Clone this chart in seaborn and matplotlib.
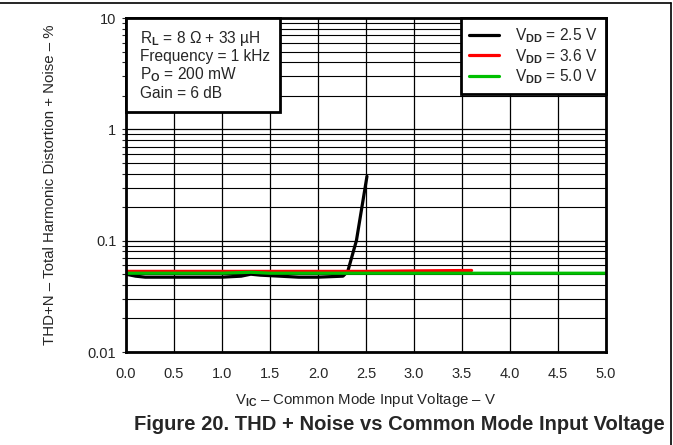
import matplotlib
matplotlib.use("Agg")
import matplotlib.pyplot as plt
import seaborn as sns
import numpy as np
import pandas as pd
from matplotlib.lines import Line2D
from matplotlib.patches import Rectangle
from matplotlib.ticker import LogLocator, NullFormatter, FixedLocator

# ---- data ----
x_25 = [0.0, 0.1, 0.2, 0.5, 0.8, 1.0, 1.2, 1.3, 1.4, 1.6, 1.8, 2.0, 2.26, 2.31, 2.40, 2.51]
y_25 = [0.050, 0.048, 0.047, 0.047, 0.047, 0.047, 0.048, 0.050, 0.049, 0.048, 0.047, 0.047, 0.048, 0.053, 0.100, 0.378]
x_36 = [0.0, 0.5, 1.0, 1.5, 2.0, 2.5, 3.0, 3.6]
y_36 = [0.053, 0.053, 0.053, 0.053, 0.053, 0.053, 0.0535, 0.054]
x_50 = [0.0, 0.5, 1.0, 1.3, 1.5, 2.0, 2.5, 3.0, 3.5, 4.0, 4.5, 5.0]
y_50 = [0.051, 0.051, 0.051, 0.052, 0.051, 0.051, 0.051, 0.051, 0.051, 0.051, 0.051, 0.051]

series_labels = ["2.5 V", "3.6 V", "5.0 V"]
series_colors = ["#000000", "#ff0000", "#00c000"]
x_ticks = [0.0, 0.5, 1.0, 1.5, 2.0, 2.5, 3.0, 3.5, 4.0, 4.5, 5.0]
y_ticks = [0.01, 0.1, 1, 10]
y_tick_labels = ["0.01", "0.1", "1", "10"]
info_lines = [r"R$_{\mathbf{L}}$ = 8 Ω + 33 µH",
              "Frequency = 1 kHz",
              r"P$_{\mathbf{O}}$ = 200 mW",
              "Gain = 6 dB"]

sns.set_style("white")
plt.rcParams['font.family'] = ['Liberation Sans', 'DejaVu Sans']
plt.rcParams['mathtext.fontset'] = 'custom'
plt.rcParams['mathtext.rm'] = 'Liberation Sans'
plt.rcParams['mathtext.it'] = 'Liberation Sans:italic'
plt.rcParams['mathtext.bf'] = 'Liberation Sans:bold'

W, H = 673, 445
fig = plt.figure(figsize=(W/100, H/100), dpi=100)
AX_L, AX_R, AX_T, AX_B = 126, 606, 18, 352
ax = fig.add_axes([AX_L/W, 1 - AX_B/H, (AX_R-AX_L)/W, (AX_B-AX_T)/H])

def px2ax(x, y):
    return ((x - AX_L) / (AX_R - AX_L), (AX_B - y) / (AX_B - AX_T))

frames = []
for xs, ys, lab in zip([x_25, x_36, x_50], [y_25, y_36, y_50], series_labels):
    frames.append(pd.DataFrame({"x": xs, "y": ys, "s": lab}))
df = pd.concat(frames, ignore_index=True)

sns.lineplot(data=df, x="x", y="y", hue="s", palette=dict(zip(series_labels, series_colors)),
             linewidth=2.3, ax=ax, legend=False, sort=False, estimator=None, zorder=5)

ax.set_yscale("log")
ax.set_xlim(0, 5)
ax.set_ylim(0.01, 10)
ax.xaxis.set_major_locator(FixedLocator(x_ticks))
ax.set_xticklabels([f"{v:.1f}" for v in x_ticks], fontsize=10.5)
ax.set_yticks(y_ticks)
ax.set_yticklabels(y_tick_labels, fontsize=10.5)
ax.yaxis.set_minor_locator(LogLocator(base=10, subs=np.arange(2, 10)))
ax.yaxis.set_minor_formatter(NullFormatter())
ax.tick_params(axis='y', which='both', direction='out', length=3, width=0.8, left=True, pad=4)
ax.tick_params(axis='x', which='both', length=0, pad=11)
ax.grid(True, which='major', axis='both', color='black', linewidth=0.9)
ax.grid(True, which='minor', axis='y', color='black', linewidth=0.8)
ax.set_axisbelow(True)
for sp in ax.spines.values():
    sp.set_visible(True)
    sp.set_color('black')
    sp.set_linewidth(2)
    sp.set_zorder(10)

ax.set_xlabel(r"V$_{\mathbf{IC}}$ – Common Mode Input Voltage – V", fontsize=10.8, labelpad=7)
ax.set_ylabel("THD+N – Total Harmonic Distortion + Noise – %", fontsize=10.8, labelpad=22)

# info box flush with top-left of axes
x0, y0 = px2ax(AX_L, 112)
x1, y1 = px2ax(280, AX_T)
ax.add_patch(Rectangle((x0, y0), x1 - x0, y1 - y0, transform=ax.transAxes,
                       facecolor='white', edgecolor='black', linewidth=2, zorder=20, clip_on=False))
for i, line in enumerate(info_lines):
    tx, ty = px2ax(140, 38 + i * 18.5)
    ax.text(tx, ty, line, transform=ax.transAxes, fontsize=11.2, va='center', ha='left', zorder=21)

handles = [Line2D([0], [0], color=c, lw=2.3) for c in series_colors]
labels = [r"V$_{\mathbf{DD}}$ = " + s for s in series_labels]
leg = ax.legend(handles, labels, loc='upper right', bbox_to_anchor=(1.0, 1.0), fontsize=11.2,
                frameon=True, fancybox=False, edgecolor='black', framealpha=1,
                handlelength=1.95, borderpad=0.55, labelspacing=0.1, handletextpad=1.0,
                borderaxespad=0.0)
leg.get_frame().set_linewidth(2)
leg.set_zorder(20)

fig.text(399/W, 1 - 425/H, "Figure 20. THD + Noise vs Common Mode Input Voltage",
         fontsize=14.5, fontweight='bold', ha='center', va='center')

# outer frame: top and right edges
fig.add_artist(Line2D([0, 670.5/W], [1 - 3/H, 1 - 3/H], transform=fig.transFigure, color='black', lw=1.2))
fig.add_artist(Line2D([670.5/W, 670.5/W], [1 - 3/H, 0], transform=fig.transFigure, color='black', lw=1.2))

fig.savefig("out.png", dpi=100)
